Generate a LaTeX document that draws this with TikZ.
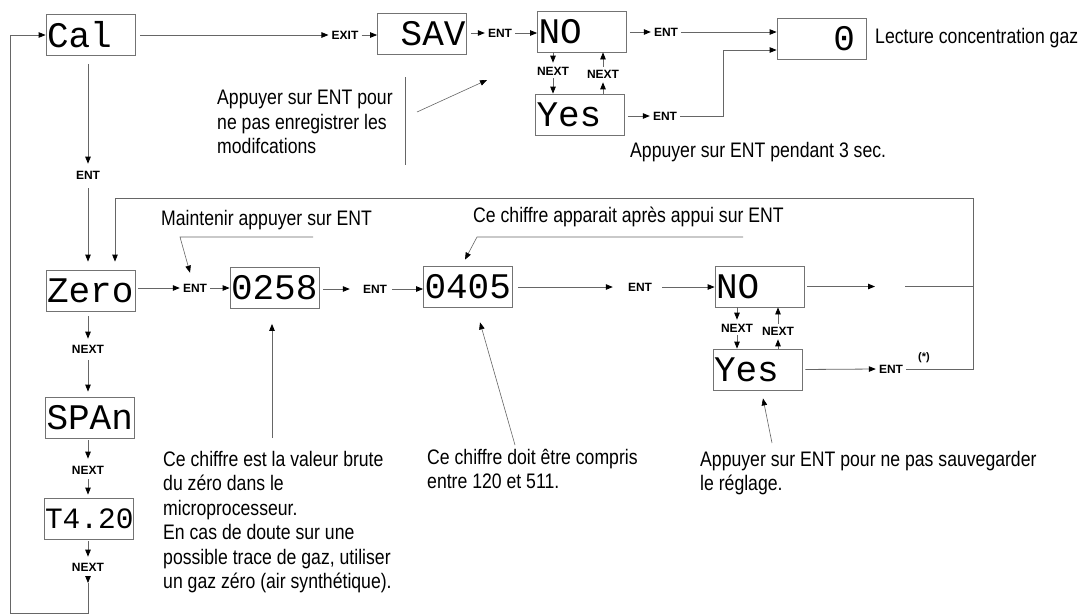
\documentclass[tikz,border=0pt]{standalone}
\usepackage{fontspec}
\setmainfont{Liberation Sans}
\setmonofont{Liberation Mono}
\newfontfamily\notefont{Liberation Sans}[FakeStretch=0.84]
\usepackage{tikz}
\usetikzlibrary{arrows.meta, positioning, calc}
\tikzstyle{display} = [rectangle, draw=black!55, line width=0.8pt, minimum width=89pt, minimum height=41pt, inner sep=0pt, text width=87pt, align=left, font=\ttfamily\fontsize{36}{36}\selectfont]
\tikzstyle{displayR} = [display, align=right]
\tikzstyle{keylbl} = [inner sep=3pt, font=\bfseries\fontsize{12}{12}\selectfont]
\tikzstyle{notetext} = [inner sep=0pt, align=left, font=\notefont\fontsize{21}{24.5}\selectfont]
\tikzstyle{arrow} = [draw=black!60, line width=0.8pt, -{Triangle[length=7pt, width=5.5pt, black]}]
\tikzstyle{link} = [draw=black!60, line width=0.8pt]

\begin{document}
\begin{tikzpicture}[x=1pt, y=-1pt]
    \useasboundingbox (0,0) rectangle (1089,614);

    % Top row: leaving the calibration menu
    \node (cal) [display] at (90.5,35) {Cal};
    \node (exit) [keylbl] at (345,35) {EXIT};
    \node (sav) [displayR] at (422,34) {SAV};
    \node (entA) [keylbl] at (500,33) {ENT};
    \node (noA) [display] at (582,31.5) {NO};
    \node (yesA) [display] at (580,114.5) {Yes};
    \node (nxA) [keylbl] at (553,71) {NEXT};
    \node (nxB) [keylbl] at (603,74) {NEXT};
    \node (entB) [keylbl] at (666,32) {ENT};
    \node (entC) [keylbl] at (665,116) {ENT};
    \node (gas) [displayR, text width=67pt] at (821.5,38.5) {0};

    % Top row notes
    \node (gasTxt) [notetext, anchor=base west] at (875,43) {Lecture concentration gaz};
    \node (holdTxt) [notetext, anchor=base west] at (630,157) {Appuyer sur ENT pendant 3 sec.};
    \node (skipTxt) [notetext, anchor=north west] at (217,90) {Appuyer sur ENT pour\\ne pas enregistrer les\\modifcations};
    \coordinate (barTop) at (405,77);
    \coordinate (barBot) at (405,165);
    \coordinate (skipA) at (417,112);
    \coordinate (skipB) at (487,80);

    % Top row arrows
    \draw [arrow, shorten <=5pt] (cal.east) -- (exit.west);
    \draw [arrow] (exit.east) -- (exit.east -| sav.west);
    \draw [arrow, shorten <=4pt] (sav.east |- entA) -- (entA.west);
    \draw [arrow] (entA.east) -- (entA.east -| noA.west);
    \draw [arrow, shorten <=3pt] (noA.east |- entB) -- (entB.west);
    \draw [arrow] (entB.east) -- (entB.east -| gas.west);
    \draw [arrow, shorten <=3pt] (yesA.east |- entC) -- (entC.west);
    \draw [arrow] (entC.east) -- ++(43,0) |- ([yshift=-11.5pt]gas.west);
    \draw [arrow, shorten >=1pt] (noA.south -| nxA) -- (nxA.north);
    \draw [arrow] (nxA.south) -- (yesA.north -| nxA);
    \draw [arrow, shorten >=1pt] (yesA.north -| nxB) -- (nxB.south);
    \draw [arrow] (nxB.north) -- (noA.south -| nxB);
    \draw [link] (barTop) -- (barBot);
    \draw [arrow, line width=0.6pt] (skipA) -- (skipB);

    % Left column: menu entries
    \node (entD) [keylbl] at (88,175) {ENT};
    \node (zero) [display] at (90.5,290.5) {Zero};
    \node (nxC) [keylbl] at (88,349) {NEXT};
    \node (span) [display] at (90,417.5) {SPAn};
    \node (nxD) [keylbl] at (88,470) {NEXT};
    \node (tBox) [display, font=\ttfamily\fontsize{29.5}{30}\selectfont] at (88.5,518.5) {T4.20};
    \node (nxE) [keylbl] at (88,567) {NEXT};
    \coordinate (loopA) at (88,583);
    \coordinate (loopB) at (10,613);

    \draw [arrow, shorten <=8pt, shorten >=4pt] (cal.south -| entD) -- (entD.north);
    \draw [arrow, shorten <=6pt, shorten >=8pt] (entD.south) -- (zero.north -| entD);
    \draw [arrow, shorten <=5pt, shorten >=3pt] (zero.south -| nxC) -- (nxC.north);
    \draw [arrow, shorten <=4pt, shorten >=5pt] (nxC.south) -- (span.north -| nxC);
    \draw [arrow, shorten <=2pt, shorten >=4pt] (span.south -| nxD) -- (nxD.north);
    \draw [arrow, shorten <=2pt, shorten >=3pt] (nxD.south) -- (tBox.north -| nxD);
    \draw [arrow, shorten <=2pt, shorten >=3pt] (tBox.south -| nxE) -- (nxE.north);
    \draw [arrow, shorten <=2pt] (nxE.south) -- (loopA);
    \draw [arrow] (loopA) |- (loopB) |- (cal.west);

    % Middle row: zero adjustment
    \node (entF) [keylbl] at (195,288) {ENT};
    \node (rawA) [display] at (274.5,288) {0258};
    \node (entG) [keylbl] at (375,289) {ENT};
    \node (rawB) [display] at (468,286.5) {0405};
    \node (entH) [keylbl] at (640,287) {ENT};
    \node (noB) [display] at (759.5,286.5) {NO};
    \node (yesB) [display] at (757.5,369.5) {Yes};
    \node (nxF) [keylbl] at (737,328) {NEXT};
    \node (nxG) [keylbl] at (778,331) {NEXT};
    \node (entJ) [keylbl] at (891,369) {ENT};
    \node (star) [inner sep=0pt, font=\bfseries\fontsize{11}{11}\selectfont] at (924,358) {(*)};
    \coordinate (noEnd) at (875,286.5);
    \coordinate (noJoin) at (905,286.5);
    \coordinate (ret) at (973,198);

    \draw [arrow, shorten <=3pt] (zero.east |- entF) -- (entF.west);
    \draw [arrow] (entF.east) -- (entF.east -| rawA.west);
    \draw [arrow, shorten <=4pt, shorten >=10pt] (rawA.east |- entG) -- (entG.west);
    \draw [arrow, shorten <=2pt] (entG.east) -- (entG.east -| rawB.west);
    \draw [arrow, shorten <=5pt, shorten >=12pt] (rawB.east |- entH) -- (entH.west);
    \draw [arrow, shorten <=7pt] (entH.east) -- (entH.east -| noB.west);
    \draw [arrow, shorten <=3pt] (noB.east) -- (noEnd);
    \draw [link] (noJoin) -- (noJoin -| ret);
    \draw [arrow, shorten <=3pt] (yesB.east) -- (entJ.west);
    \draw [arrow] (entJ.east) -| (ret) -| ([xshift=24.5pt, yshift=8pt]zero.north);
    \draw [arrow, shorten >=1pt] (noB.south -| nxF) -- (nxF.north);
    \draw [arrow] (nxF.south) -- (yesB.north -| nxF);
    \draw [arrow, shorten >=1pt] (yesB.north -| nxG) -- (nxG.south);
    \draw [arrow] (nxG.north) -- (noB.south -| nxG);

    % Middle row notes
    \node (keepTxt) [notetext, anchor=base west] at (161,225) {Maintenir appuyer sur ENT};
    \coordinate (keepA) at (313,237);
    \coordinate (keepB) at (180,237);
    \draw [arrow, line width=0.6pt] (keepA) -- (keepB) -- ([xshift=-5pt, yshift=8pt]entF.north);
    \node (showTxt) [notetext, anchor=base west] at (473,222) {Ce chiffre apparait après appui sur ENT};
    \coordinate (showA) at (743,237);
    \coordinate (showB) at (477,237);
    \draw [arrow, line width=0.6pt] (showA) -- (showB) -- ([xshift=-3pt, yshift=6pt]rawB.north);

    % Bottom notes
    \node (rawTxt) [notetext, anchor=north west] at (163,451) {Ce chiffre est la valeur brute\\du zéro dans le\\microprocesseur.\\En cas de doute sur une\\possible trace de gaz, utiliser\\un gaz zéro (air synthétique).};
    \coordinate (rawPt) at (272,438);
    \draw [arrow] (rawPt) -- ([xshift=-2.5pt, yshift=-15pt]rawA.south);
    \node (rangeTxt) [notetext, anchor=north west] at (427,449) {Ce chiffre doit être compris\\entre 120 et 511.};
    \coordinate (rangePt) at (515,445);
    \draw [arrow, line width=0.6pt] (rangePt) -- ([xshift=12pt, yshift=-15pt]rawB.south);
    \node (saveTxt) [notetext, anchor=north west] at (700,451) {Appuyer sur ENT pour ne pas sauvegarder\\le réglage.};
    \coordinate (savePt) at (772,443);
    \draw [arrow, line width=0.6pt] (savePt) -- ([xshift=5.5pt, yshift=-8pt]yesB.south);
\end{tikzpicture}
\end{document}
